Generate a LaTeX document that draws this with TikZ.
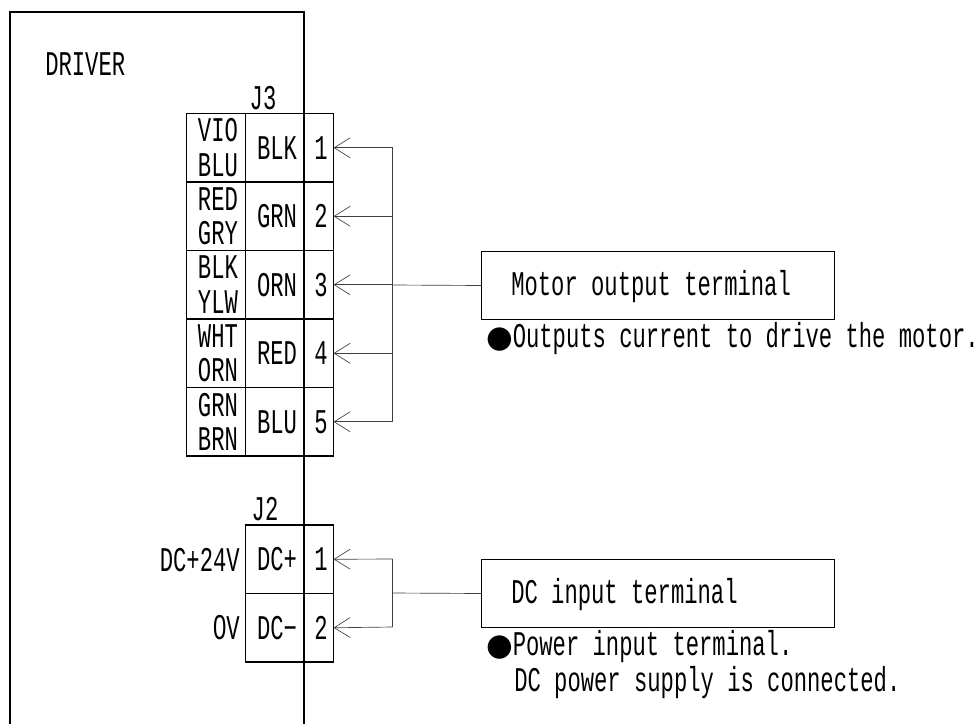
\documentclass[tikz,border=0pt]{standalone}
\usepackage{fontspec}
\usetikzlibrary{arrows.meta}
\newfontfamily\wideface[FakeStretch=0.64]{Liberation Mono}
\newfontfamily\zeroface[FakeStretch=0.69]{Liberation Sans}
\newfontfamily\symface{DejaVu Sans}
\newcommand{\widelab}{\wideface\fontsize{26}{26}\selectfont}
\newcommand{\blt}{\makebox[19.5pt][l]{\symface\fontsize{23}{26}\selectfont●}}
\newcommand{\sh}{\hspace*{3pt}}
\tikzset{
  x=0.75pt,y=-0.75pt,
  cell/.style={draw=black,line width=0.9pt,minimum height=51.4pt,inner sep=0pt,outer sep=0pt,anchor=north west,align=center,font=\widelab},
  colA/.style={cell,minimum width=44.2pt},
  colB/.style={cell,minimum width=44.2pt},
  colC/.style={cell,minimum width=21.8pt},
  lab/.style={inner sep=0pt,font=\widelab},
  txt/.style={inner sep=0pt,anchor=west,font=\widelab},
  termbox/.style={draw=black,line width=0.75pt,minimum width=264.5pt,minimum height=51pt,inner sep=0pt,anchor=north west},
  wire/.style={draw=black!75,line width=0.5pt},
  pinarrow/.style={wire,-{Straight Barb[length=12pt,width=15pt,line width=0.5pt]}},
  frame/.style={draw=black,line width=1.1pt}
}
\begin{document}
\begin{tikzpicture}
\useasboundingbox (0,0) rectangle (980,724);
% driver frame
\coordinate (ftl) at (10,12);
\coordinate (ftr) at (304,12);
\coordinate (fbl) at (10,724);
\coordinate (fbr) at (304,724);
\node[txt] (drv) at (45,64) {DRIVER};
% J3
\node[lab] (j3) at (263,98) {J3};
\foreach \n/\y/\a/\b/\c in {1/113.5/{\sh VIO\\\sh BLU}/BLK/1,2/182/{\sh RED\\\sh GRY}/GRN/2,3/250.5/{\sh BLK\\\sh YLW}/ORN/3,4/319/{\sh WHT\\\sh ORN}/RED/4,5/387.5/{\sh GRN\\\sh BRN}/BLU/5}{
  \node[colA] (a\n) at (186.5,\y) {\a};
  \node[colB] (b\n) at (245.5,\y) {\sh\b};
  \node[colC] (p\n) at (304.5,\y) {\sh\c};
}
% J2
\node[lab] (j2) at (265,509) {J2};
\node[colB] (dp) at (245.5,525) {\sh DC+};
\node[colC] (q1) at (304.5,525) {\sh 1};
\node[colB] (dm) at (245.5,593.5) {\sh DC−};
\node[colC] (q2) at (304.5,593.5) {\sh 2};
\node[lab,anchor=east] (v24) at (240,560) {DC+24V};
\node[lab,anchor=east] (v0) at (240,628) {{\zeroface\fontsize{26}{26}\selectfont 0}V};
\draw[frame] (fbl) -- (ftl) -- (ftr) -- (fbr);
% terminal boxes
\node[termbox] (mot) at (481,251) {};
\node[txt] (mott) at (511,287) {Motor output terminal};
\node[termbox] (dcb) at (481,559) {};
\node[txt] (dct) at (511,595) {DC input terminal};
\node[txt] (n1) at (486.5,339) {\blt Outputs current to drive the motor.};
\node[txt] (n2) at (486.5,647) {\blt Power input terminal.};
\node[txt] (n3) at (514,683) {DC power supply is connected.};
% connectors
\coordinate (jm) at (392.5,285);
\coordinate (jt) at (392.5,148);
\coordinate (jb) at (392.5,422);
\coordinate (k) at (392.5,593);
\coordinate (kt) at (392.5,559);
\coordinate (kb) at (392.5,627);
\draw[wire] (jt) -- (jb);
\draw[wire] (kt) -- (kb);
\draw[wire] (jm) -- (mot.west);
\draw[wire] (k) -- (dcb.west);
\foreach \n in {1,...,5}{\draw[pinarrow] (392.5,0 |- p\n.east) -- (p\n.east);}
\draw[pinarrow] (kt) -- (q1.east);
\draw[pinarrow] (kb) -- (q2.east);
\end{tikzpicture}
\end{document}
